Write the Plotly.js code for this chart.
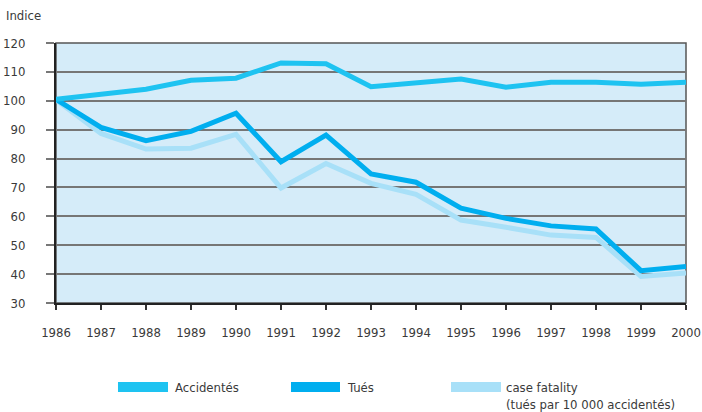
<!DOCTYPE html>
<html>
<head>
<meta charset="utf-8">
<script src="https://cdn.plot.ly/plotly-3.0.1.min.js"></script>
<style>
html,body{margin:0;padding:0;background:#fff;}
#chart{width:702px;height:412px;}
</style>
</head>
<body>
<div id="chart"></div>
<script>
const years = [1986,1987,1988,1989,1990,1991,1992,1993,1994,1995,1996,1997,1998,1999,2000];
const accidentes = [100.5,102.2,104.0,107.1,107.8,113.1,112.8,104.9,106.2,107.5,104.7,106.4,106.4,105.7,106.4];
const tues = [100.5,90.8,86.2,89.4,95.7,78.9,88.1,74.7,71.8,62.8,59.3,56.7,55.6,41.2,42.6];
const caseFatality = [100.3,88.7,83.3,83.6,88.4,69.8,78.3,71.4,67.6,58.7,56.2,53.5,52.7,39.2,40.4];
const seriesNames = ["Accidentés","Tués","case fatality"];
const seriesNote = "(tués par 10 000 accidentés)";
const seriesColors = ["#1ec3f1","#00aeef","#a8e0f8"];
const yTicks = [30,40,50,60,70,80,90,100,110,120];

const FAM = "DejaVu Sans Condensed, Liberation Sans Narrow, sans-serif";
const font = {family:FAM, size:13, color:"#3a3a3a"};

const traces = [
  {x:years, y:caseFatality, name:seriesNames[2], mode:"lines", line:{color:seriesColors[2], width:5}},
  {x:years, y:tues, name:seriesNames[1], mode:"lines", line:{color:seriesColors[1], width:5}},
  {x:years, y:accidentes, name:seriesNames[0], mode:"lines", line:{color:seriesColors[0], width:5}}
];

// manual legend (paper coordinates)
const legX = [[0.0984,0.1778],[0.373,0.4508],[0.627,0.7063]];
const legShapes = legX.map((p,i)=>({type:"rect", xref:"paper", yref:"paper", x0:p[0], x1:p[1], y0:-0.3423, y1:-0.3038, line:{width:0}, fillcolor:seriesColors[i]}));
const legTextX = [0.1889,0.4619,0.7143];
const legAnn = seriesNames.map((n,i)=>({text:n, xref:"paper", yref:"paper", x:legTextX[i], y:-0.3269, xanchor:"left", yanchor:"middle", showarrow:false, font:font, xshift:-2}));
legAnn.push({text:seriesNote, xref:"paper", yref:"paper", x:legTextX[2], y:-0.392, xanchor:"left", yanchor:"middle", showarrow:false, font:font, xshift:-2});

const layout = {
  width:702, height:412,
  margin:{l:56, r:16, t:43, b:109},
  paper_bgcolor:"#ffffff",
  plot_bgcolor:"#d5ecf9",
  font:font,
  showlegend:false,
  xaxis:{
    type:"linear", range:[1986,2000], tickvals:years, ticktext:years.map(String),
    showgrid:false, zeroline:false,
    showline:true, linecolor:"#222", linewidth:2,
    ticks:"outside", ticklen:5, tickcolor:"#333", tickwidth:1.5,
    ticklabelstandoff:11, ticklabeloverflow:"allow",
    tickfont:font
  },
  yaxis:{
    range:[30,120], tickvals:yTicks,
    showgrid:true, gridcolor:"#767676", gridwidth:2,
    zeroline:false,
    showline:true, linecolor:"#222", linewidth:2,
    ticks:"outside", ticklen:8, tickcolor:"#777", tickwidth:2,
    ticklabelstandoff:18,
    tickfont:font
  },
  shapes:[
    {type:"rect", xref:"paper", yref:"paper", x0:0, x1:1, y0:0, y1:1, line:{color:"#555", width:1.5}, layer:"below"}
  ].concat(legShapes),
  annotations:[
    {text:"Indice", xref:"paper", yref:"paper", x:-0.082, y:1.106, xanchor:"left", yanchor:"middle", showarrow:false, font:font}
  ].concat(legAnn)
};

Plotly.newPlot("chart", traces, layout, {displayModeBar:false, staticPlot:true});
</script>
</body>
</html>
